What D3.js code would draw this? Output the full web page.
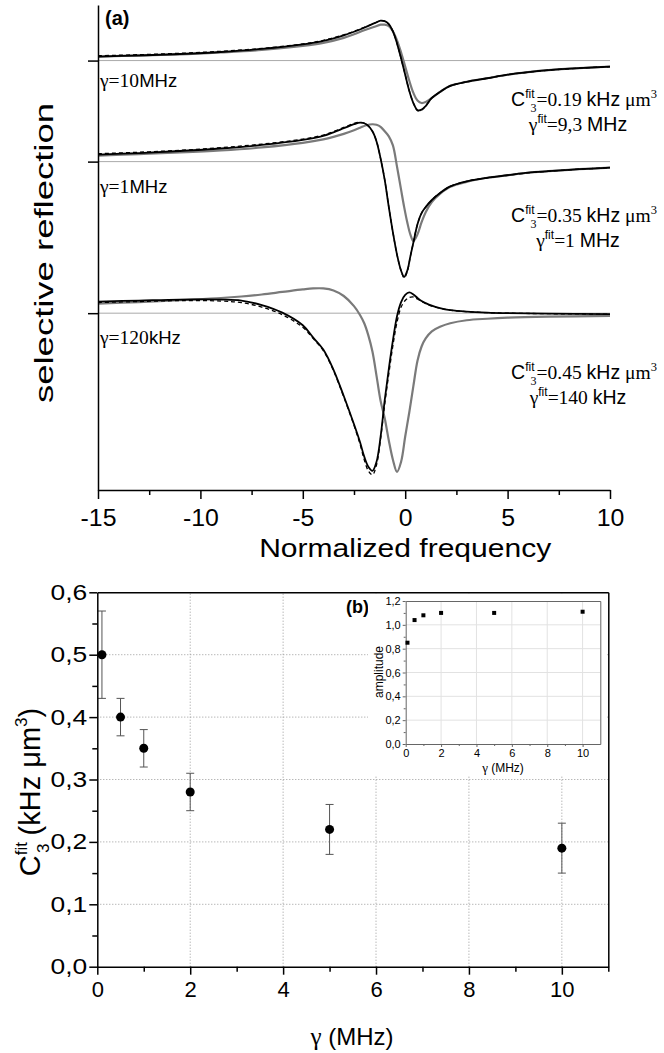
<!DOCTYPE html>
<html>
<head>
<meta charset="utf-8">
<script src="https://cdn.jsdelivr.net/npm/d3@7"></script>
<style>
  body { margin: 0; background: #fff; }
  svg { display: block; }
  text { font-family: "Liberation Sans", Arial, sans-serif; fill: #000; }
</style>
</head>
<body>
<div id="chart"></div>
<script>
// ---------- panel (a): selective reflection spectra (arbitrary units) ----------
var traceOffsets = [0, -100, -250];
var gammaValues = ["10", "1", "120"];
var gammaUnits = ["MHz", "MHz", "kHz"];
var c3Fit = ["0.19", "0.35", "0.45"];
var gammaFitNum = ["9,3", "1", "140"];
var gammaFitUnit = ["MHz", "MHz", "kHz"];

// gamma = 10 MHz
var freqA = [-15, -13, -11, -9, -7, -5, -4, -3, -2.5, -2, -1.5, -1.2, -1.0, -0.8, -0.6, -0.4, -0.2, 0, 0.2, 0.4, 0.6, 0.8, 1.0, 1.3, 1.7, 2.2, 3, 4, 5, 6, 7, 8.5, 10];
var expA   = [4, 5, 6.5, 8.5, 11.5, 16, 19.5, 25, 28.5, 32.5, 37, 39.5, 39, 36, 29, 17, 2, -14, -30, -42, -49, -48.5, -45, -37, -31, -25, -21, -17.5, -14, -11.5, -9.5, -7.5, -6];
var fitA   = [4.8, 5.8, 7.2, 9.2, 12, 16.5, 20, 25.5, 29, 33, 37, 39.5, 39, 36, 29, 17, 2, -14, -30, -42, -49.5, -49, -45, -37, -31, -25, -21, -17.5, -14, -11.5, -9.5, -7.5, -6];
var calcA  = [4, 5, 6, 8, 10.5, 14.5, 17.5, 22.5, 26, 30, 33.5, 35.5, 35.5, 34, 29, 20, 8, -6, -20, -32, -39.5, -42, -41, -37, -31, -25, -21, -17.5, -14, -11.5, -9.5, -7.5, -6];

// gamma = 1 MHz
var freqB = [-15, -13, -11, -9, -7, -5, -4, -3.5, -3, -2.5, -2.2, -1.9, -1.6, -1.4, -1.2, -1.0, -0.8, -0.6, -0.4, -0.2, -0.05, 0.1, 0.25, 0.4, 0.6, 0.8, 1.0, 1.3, 1.7, 2.2, 3, 4, 5, 6, 7, 8.5, 10];
var expB   = [7, 8.5, 10.5, 13, 16.5, 21.5, 25.5, 29, 33, 37, 38.5, 37, 30, 20, 3, -18, -45, -70, -92, -108, -114, -108, -94, -80, -62, -51, -45, -38, -31, -24.5, -19.5, -16, -13.5, -11, -9.5, -7.5, -6];
var fitB   = [7.8, 9.3, 11.2, 13.8, 17.3, 22.3, 26.3, 29.8, 33.8, 37.8, 38.8, 37, 30, 20, 3, -18, -45, -70, -92, -108, -115, -109, -94, -80, -62, -51, -45, -38, -31, -24.5, -19.5, -16, -13.5, -11, -9.5, -7.5, -6];
var calcB  = [6, 7.5, 9, 11, 14, 18.5, 22, 24.5, 27.5, 31, 33.5, 36, 37, 36.5, 34.5, 30, 25, 16, -5, -28, -45, -60, -72, -78.5, -72, -60, -50, -40, -32, -25, -20, -16, -13.5, -11, -9.5, -7.5, -6];

// gamma = 120 kHz
var freqC = [-15, -13, -11, -9, -8, -7, -6, -5, -4.5, -4, -3.5, -3, -2.5, -2.2, -2, -1.8, -1.6, -1.4, -1.2, -1.0, -0.8, -0.6, -0.4, -0.2, 0, 0.2, 0.4, 0.6, 0.8, 1.0, 1.3, 1.7, 2.2, 3, 4, 5, 7, 10];
var expC   = [11.5, 12.5, 13.5, 13.5, 12.5, 8, 0.5, -12, -24, -36, -56, -82, -110, -128, -142, -152, -156, -147, -122, -86, -55, -27, -3, 11, 18, 20.5, 18.5, 15, 12, 10, 7.5, 5, 3, 1.5, 0.5, 0, -0.5, -1];
var fitC   = [10.5, 11.5, 12.5, 12, 10.5, 6, -1.5, -14, -25, -37, -57, -83, -111, -130, -145, -156, -160, -150, -124, -90, -60, -32, -9, 6, 12.5, 15.5, 16, 14, 11.5, 9.5, 7, 5, 3, 1.5, 0.5, 0, -0.5, -1];
var calcC  = [9.5, 11, 13, 15, 16.5, 18.5, 21, 23.5, 24.5, 24.5, 22.5, 17, 7, -2, -10, -22, -38, -62, -87, -104, -126, -145, -157, -147, -122, -98, -72, -47, -33, -25, -18, -13.5, -10, -7, -5.5, -4.5, -3.5, -2.7];

var traces = [
  { f: freqA, exp: expA, fit: fitA, calc: calcA },
  { f: freqB, exp: expB, fit: fitB, calc: calcB },
  { f: freqC, exp: expC, fit: fitC, calc: calcC }
];

// ---------- panel (b): fitted C3 versus gamma ----------
var gammaMHz = [0.1, 0.5, 1, 2, 5, 10];
var c3Value = [0.50, 0.40, 0.35, 0.28, 0.22, 0.19];
var c3Low = [0.43, 0.37, 0.32, 0.25, 0.18, 0.15];
var c3High = [0.57, 0.43, 0.38, 0.31, 0.26, 0.23];
var amplitude = [0.85, 1.04, 1.08, 1.10, 1.10, 1.11];

var SANS = '"Liberation Sans", Arial, sans-serif';
var SERIF = '"Liberation Serif", "Times New Roman", serif';

var width = 664,
  height = 1053;

var svg = d3
  .select("#chart")
  .append("svg")
  .attr("width", width)
  .attr("height", height);

// writes a run of differently styled pieces into one text element
// each piece: [string, font, size, shift, dx]  (shift > 0 raises the piece)
function richText(sel, pieces) {
  var prev = 0;
  pieces.forEach(function(p) {
    var shift = p[3] || 0;
    var t = sel
      .append("tspan")
      .style("font-family", p[1])
      .style("font-size", p[2] + "px")
      .attr("dy", prev - shift)
      .text(p[0]);
    if (p[4]) t.attr("dx", p[4]);
    prev = shift;
  });
  return sel;
}

// the original figure's lettering is a little wider than Liberation Sans
function widen(sel, k) {
  sel.each(function() {
    var L = this.getComputedTextLength();
    d3.select(this).attr("textLength", L * k).attr("lengthAdjust", "spacingAndGlyphs");
  });
}

// ================= panel (a) =================
var xA = d3.scaleLinear().domain([-15, 10]).range([98, 610]);
var yA = d3.scaleLinear().domain([-425, 55]).range([490, 5]);

var gA = svg.append("g");

// baselines
gA.selectAll(".baseline")
  .data(traceOffsets)
  .enter()
  .append("line")
  .attr("x1", xA(-15))
  .attr("x2", xA(10))
  .attr("y1", function(d) { return yA(d); })
  .attr("y2", function(d) { return yA(d); })
  .attr("stroke", "#aaa")
  .attr("stroke-width", 1);

traces.forEach(function(tr, i) {
  var off = traceOffsets[i];
  var line = d3
    .line()
    .curve(d3.curveCatmullRom.alpha(0.5))
    .x(function(d) { return xA(d[0]); })
    .y(function(d) { return yA(d[1] + off); });
  var pts = function(arr) {
    return tr.f.map(function(f, k) { return [f, arr[k]]; });
  };
  gA.append("path")
    .attr("d", line(pts(tr.calc)))
    .attr("fill", "none")
    .attr("stroke", "#7a7a7a")
    .attr("stroke-width", 2.2);
  gA.append("path")
    .attr("d", line(pts(tr.exp)))
    .attr("fill", "none")
    .attr("stroke", "#000")
    .attr("stroke-width", 1.8);
  gA.append("path")
    .attr("d", line(pts(tr.fit)))
    .attr("fill", "none")
    .attr("stroke", "#000")
    .attr("stroke-width", 1.3)
    .attr("stroke-dasharray", "4,3");
});

// axes
var axA = gA
  .append("g")
  .attr("transform", "translate(0," + yA(-425) + ")")
  .call(d3.axisBottom(xA).tickValues([-15, -10, -5, 0, 5, 10]).tickSize(9).tickSizeOuter(0).tickPadding(11)
    .tickFormat(function(d) { return String(d); }));
gA.append("g")
  .attr("transform", "translate(0," + yA(-425) + ")")
  .call(d3.axisBottom(xA).tickValues([-12.5, -7.5, -2.5, 2.5, 7.5]).tickSize(5).tickFormat(""))
  .select(".domain").remove();
axA.selectAll("text").style("font-size", "23px").style("font-family", SANS);
widen(axA.selectAll("text"), 1.08);

gA.append("g")
  .attr("transform", "translate(" + xA(-15) + ",0)")
  .call(d3.axisLeft(yA).tickValues(traceOffsets).tickSize(10).tickSizeOuter(0).tickFormat(""));

svg.selectAll(".domain, .tick line").attr("stroke", "#000").attr("stroke-width", 1.5);

gA.append("text")
  .attr("x", xA(0))
  .attr("y", 557)
  .attr("text-anchor", "middle")
  .style("font-size", "25px")
  .attr("textLength", 292)
  .attr("lengthAdjust", "spacingAndGlyphs")
  .text("Normalized frequency");

gA.append("text")
  .attr("transform", "translate(53,253) rotate(-90)")
  .attr("text-anchor", "middle")
  .style("font-size", "26px")
  .attr("textLength", 300)
  .attr("lengthAdjust", "spacingAndGlyphs")
  .text("selective reflection");

gA.append("text")
  .attr("x", 105)
  .attr("y", 25)
  .style("font-size", "20px")
  .style("font-weight", "bold")
  .text("(a)");

// gamma labels
var gammaLabelY = [87, 193, 344];
gammaValues.forEach(function(v, i) {
  richText(
    gA.append("text").attr("x", 100).attr("y", gammaLabelY[i]),
    [["\u03b3=" + v, SERIF, 19.5], [gammaUnits[i], SANS, 18.5]]
  );
});

// fit annotations
var annotY = [106, 222, 379];
c3Fit.forEach(function(v, i) {
  var cx = 584;
  richText(
    gA.append("text").attr("x", cx).attr("y", annotY[i]).attr("text-anchor", "middle"),
    [
      ["C", SANS, 19.5],
      ["fit", SANS, 12, 8],
      ["3", SERIF, 12, -6, -4],
      ["=" + v + " ", SERIF, 19.5],
      ["kHz", SANS, 19.5],
      [" \u03bcm", SERIF, 19.5],
      ["3", SERIF, 12.5, 8]
    ]
  );
  richText(
    gA.append("text").attr("x", cx - 6).attr("y", annotY[i] + 25).attr("text-anchor", "middle"),
    [
      ["\u03b3", SERIF, 19.5],
      ["fit", SANS, 12, 8],
      ["=" + gammaFitNum[i] + " ", SERIF, 19.5],
      [gammaFitUnit[i], SANS, 19.5]
    ]
  );
});

// ================= panel (b) =================
var xB = d3.scaleLinear().domain([0, 11]).range([97.3, 608.3]);
var yB = d3.scaleLinear().domain([0, 0.6]).range([966.7, 592.3]);
var commaFmt = function(f) {
  return function(d) { return d3.format(f)(d).replace(".", ","); };
};

var gB = svg.append("g");

// dotted grid
gB.selectAll(".gy")
  .data([0.1, 0.2, 0.3, 0.4, 0.5])
  .enter()
  .append("line")
  .attr("x1", xB(0)).attr("x2", xB(11))
  .attr("y1", function(d) { return yB(d); })
  .attr("y2", function(d) { return yB(d); })
  .attr("stroke", "#999").attr("stroke-width", 1).attr("stroke-dasharray", "1,2");
gB.selectAll(".gx")
  .data([2, 4, 6, 8, 10])
  .enter()
  .append("line")
  .attr("y1", yB(0)).attr("y2", yB(0.6))
  .attr("x1", function(d) { return xB(d); })
  .attr("x2", function(d) { return xB(d); })
  .attr("stroke", "#999").attr("stroke-width", 1).attr("stroke-dasharray", "1,2");

// error bars
var eb = gB.selectAll(".eb").data(gammaMHz).enter().append("g").attr("stroke", "#555").attr("stroke-width", 1);
eb.append("line")
  .attr("x1", function(d) { return xB(d); })
  .attr("x2", function(d) { return xB(d); })
  .attr("y1", function(d, i) { return yB(c3Low[i]); })
  .attr("y2", function(d, i) { return yB(c3High[i]); });
[c3Low, c3High].forEach(function(arr) {
  eb.append("line")
    .attr("x1", function(d) { return xB(d) - 4; })
    .attr("x2", function(d) { return xB(d) + 4; })
    .attr("y1", function(d, i) { return yB(arr[i]); })
    .attr("y2", function(d, i) { return yB(arr[i]); });
});

gB.selectAll(".pt")
  .data(gammaMHz)
  .enter()
  .append("circle")
  .attr("cx", function(d) { return xB(d); })
  .attr("cy", function(d, i) { return yB(c3Value[i]); })
  .attr("r", 4.5)
  .attr("fill", "#000");

// frame and axes
var axB = gB.append("g")
  .attr("transform", "translate(0," + yB(0) + ")")
  .call(d3.axisBottom(xB).tickValues([0, 2, 4, 6, 8, 10]).tickSize(8).tickSizeOuter(0).tickPadding(7));
gB.append("g")
  .attr("transform", "translate(0," + yB(0) + ")")
  .call(d3.axisBottom(xB).tickValues([1, 3, 5, 7, 9, 11]).tickSize(5).tickFormat(""))
  .select(".domain").remove();
var ayB = gB.append("g")
  .attr("transform", "translate(" + xB(0) + ",0)")
  .call(d3.axisLeft(yB).tickValues([0, 0.1, 0.2, 0.3, 0.4, 0.5, 0.6]).tickSize(8).tickSizeOuter(0).tickPadding(2).tickFormat(commaFmt(".1f")));
gB.append("g")
  .attr("transform", "translate(" + xB(0) + ",0)")
  .call(d3.axisLeft(yB).tickValues([0.05, 0.15, 0.25, 0.35, 0.45, 0.55]).tickSize(5).tickFormat(""))
  .select(".domain").remove();
gB.append("g")
  .attr("transform", "translate(0," + yB(0.6) + ")")
  .call(d3.axisTop(xB).tickValues([]).tickSizeOuter(0));
gB.append("g")
  .attr("transform", "translate(" + xB(11) + ",0)")
  .call(d3.axisRight(yB).tickValues([]).tickSizeOuter(0));
axB.selectAll("text").style("font-size", "22px").style("font-family", SANS);
ayB.selectAll("text").style("font-size", "22px").style("font-family", SANS);
widen(ayB.selectAll("text"), 1.2);
gB.selectAll(".domain, .tick line").attr("stroke", "#000").attr("stroke-width", 1.5);

richText(
  gB.append("text").attr("x", 352).attr("y", 1045).attr("text-anchor", "middle"),
  [["\u03b3", SERIF, 25], [" (MHz)", SANS, 24]]
);
richText(
  gB.append("text").attr("transform", "translate(40,792) rotate(-90)").attr("text-anchor", "middle"),
  [
    ["C", SANS, 29],
    ["fit", SANS, 17, 13],
    ["3", SANS, 17, -9, -11],
    [" (kHz \u03bcm", SANS, 29],
    ["3", SANS, 17, 13],
    [")", SANS, 29]
  ]
);

gB.append("text")
  .attr("x", 346)
  .attr("y", 613)
  .style("font-size", "18px")
  .style("font-weight", "bold")
  .text("(b)");

// ---------- inset: amplitude ----------
var xI = d3.scaleLinear().domain([0, 11]).range([405.7, 600.3]);
var yI = d3.scaleLinear().domain([0, 1.2]).range([744, 601]);
var gI = svg.append("g");

gI.append("rect")
  .attr("x", 368).attr("y", 594)
  .attr("width", 238).attr("height", 182)
  .attr("fill", "#fff");

gI.selectAll(".igy")
  .data([0.2, 0.4, 0.6, 0.8, 1.0])
  .enter()
  .append("line")
  .attr("x1", xI(0)).attr("x2", xI(11))
  .attr("y1", function(d) { return yI(d); })
  .attr("y2", function(d) { return yI(d); })
  .attr("stroke", "#e2e2e2");
gI.selectAll(".igx")
  .data([2, 4, 6, 8, 10])
  .enter()
  .append("line")
  .attr("y1", yI(0)).attr("y2", yI(1.2))
  .attr("x1", function(d) { return xI(d); })
  .attr("x2", function(d) { return xI(d); })
  .attr("stroke", "#e2e2e2");

var axI = gI.append("g")
  .attr("transform", "translate(0," + yI(0) + ")")
  .call(d3.axisBottom(xI).tickValues([0, 2, 4, 6, 8, 10]).tickSize(3).tickSizeOuter(0).tickPadding(2));
gI.append("g")
  .attr("transform", "translate(0," + yI(0) + ")")
  .call(d3.axisBottom(xI).tickValues([1, 3, 5, 7, 9]).tickSize(2).tickFormat(""))
  .select(".domain").remove();
var ayI = gI.append("g")
  .attr("transform", "translate(" + xI(0) + ",0)")
  .call(d3.axisLeft(yI).tickValues([0, 0.2, 0.4, 0.6, 0.8, 1.0, 1.2]).tickSize(3).tickSizeOuter(0).tickPadding(2).tickFormat(commaFmt(".1f")));
gI.append("g")
  .attr("transform", "translate(" + xI(0) + ",0)")
  .call(d3.axisLeft(yI).tickValues([0.1, 0.3, 0.5, 0.7, 0.9, 1.1]).tickSize(2).tickFormat(""))
  .select(".domain").remove();
gI.append("g")
  .attr("transform", "translate(0," + yI(1.2) + ")")
  .call(d3.axisTop(xI).tickValues([]).tickSizeOuter(0));
gI.append("g")
  .attr("transform", "translate(" + xI(11) + ",0)")
  .call(d3.axisRight(yI).tickValues([]).tickSizeOuter(0));
gI.selectAll(".domain, .tick line").attr("stroke", "#666").attr("stroke-width", 1);
axI.selectAll("text").style("font-size", "11px").style("font-family", SANS);
ayI.selectAll("text").style("font-size", "11px").style("font-family", SANS);

gI.selectAll(".sq")
  .data(gammaMHz)
  .enter()
  .append("rect")
  .attr("x", function(d) { return xI(d) - 2; })
  .attr("y", function(d, i) { return yI(amplitude[i]) - 2; })
  .attr("width", 4)
  .attr("height", 4)
  .attr("fill", "#000");

richText(
  gI.append("text").attr("x", 503).attr("y", 772).attr("text-anchor", "middle"),
  [["\u03b3", SERIF, 13], [" (MHz)", SANS, 12]]
);
gI.append("text")
  .attr("transform", "translate(383,672) rotate(-90)")
  .attr("text-anchor", "middle")
  .style("font-size", "12px")
  .text("amplitude");
</script>
</body>
</html>
